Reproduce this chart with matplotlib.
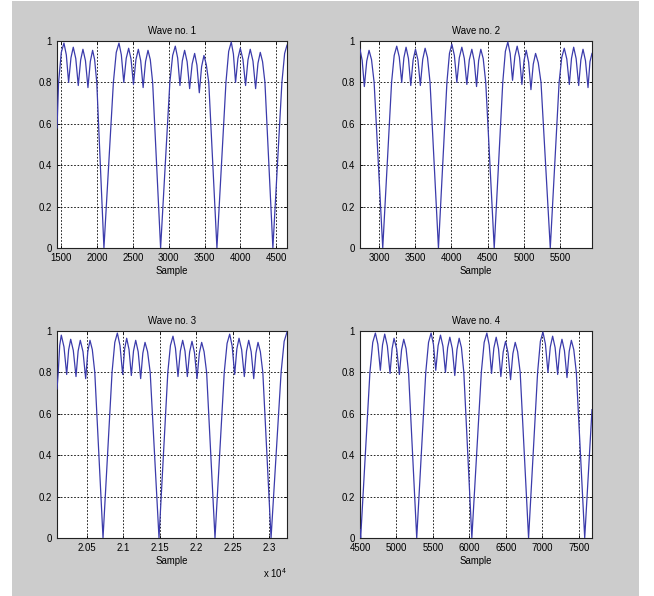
import matplotlib
matplotlib.use("Agg")
import matplotlib.pyplot as plt
from matplotlib.patches import Rectangle
from matplotlib import font_manager

_names = {f.name for f in font_manager.fontManager.ttflist}
_fam = ['Liberation Sans Narrow'] if 'Liberation Sans Narrow' in _names else []
plt.rcParams['font.family'] = _fam + ['Liberation Sans', 'DejaVu Sans']
plt.rcParams['mathtext.default'] = 'regular'

# ---------------- data ----------------
titles = ["Wave no. 1", "Wave no. 2", "Wave no. 3", "Wave no. 4"]
x_label = "Sample"

wave1_x = [1440, 1462, 1500, 1537, 1570, 1602, 1635, 1667, 1702, 1737, 1770, 1802, 1837, 1872, 1905, 1937, 1965, 1995, 2095,
           2227, 2267, 2305, 2338, 2372, 2406, 2440, 2473, 2507, 2541, 2575, 2608, 2642, 2676, 2710, 2742, 2775, 2886,
           3015, 3054, 3091, 3124, 3156, 3189, 3221, 3256, 3291, 3326, 3361, 3393, 3426, 3458, 3491, 3524, 3558, 3672,
           3798, 3836, 3872, 3902, 3932, 3965, 3998, 4035, 4072, 4105, 4137, 4175, 4212, 4245, 4277, 4309, 4342, 4453,
           4579, 4617, 4650]
wave1_y = [0.58, 0.80, 0.945, 0.99, 0.933, 0.80, 0.919, 0.97, 0.915, 0.785, 0.908, 0.96, 0.905, 0.775, 0.901, 0.955, 0.91, 0.80, 0.0,
           0.80, 0.945, 0.99, 0.933, 0.80, 0.916, 0.965, 0.913, 0.79, 0.909, 0.96, 0.905, 0.775, 0.901, 0.955, 0.91, 0.80, 0.0,
           0.80, 0.93, 0.975, 0.918, 0.785, 0.904, 0.955, 0.90, 0.77, 0.889, 0.94, 0.883, 0.75, 0.876, 0.93, 0.885, 0.80, 0.0,
           0.80, 0.95, 0.995, 0.937, 0.80, 0.916, 0.965, 0.911, 0.785, 0.908, 0.96, 0.903, 0.77, 0.893, 0.945, 0.90, 0.80, 0.0,
           0.80, 0.94, 0.98]

wave2_x = [2737, 2767, 2797, 2830, 2862, 2896, 2932, 3051,
           3173, 3209, 3244, 3279, 3313, 3343, 3373, 3406, 3438, 3470, 3503, 3537, 3570, 3603, 3636, 3669, 3704, 3820,
           3937, 3972, 4005, 4040, 4074, 4108, 4143, 4177, 4212, 4246, 4281, 4313, 4346, 4375, 4405, 4438, 4473, 4590,
           4708, 4744, 4778, 4810, 4843, 4875, 4907, 4940, 4972, 5002, 5032, 5065, 5097, 5129, 5161, 5198, 5236, 5364,
           5486, 5522, 5557, 5592, 5627, 5657, 5687, 5721, 5756, 5786, 5816, 5850, 5885, 5912, 5940]
wave2_y = [0.96, 0.906, 0.78, 0.903, 0.955, 0.91, 0.80, 0.0,
           0.80, 0.93, 0.975, 0.923, 0.80, 0.919, 0.97, 0.915, 0.785, 0.908, 0.96, 0.908, 0.785, 0.911, 0.965, 0.92, 0.80, 0.0,
           0.80, 0.94, 0.985, 0.93, 0.80, 0.919, 0.97, 0.916, 0.79, 0.909, 0.96, 0.906, 0.78, 0.906, 0.96, 0.915, 0.80, 0.0,
           0.80, 0.95, 0.995, 0.94, 0.81, 0.926, 0.975, 0.92, 0.79, 0.906, 0.955, 0.898, 0.765, 0.888, 0.94, 0.895, 0.80, 0.0,
           0.80, 0.92, 0.965, 0.913, 0.79, 0.916, 0.97, 0.915, 0.785, 0.908, 0.96, 0.905, 0.775, 0.90, 0.94]

wave3_x = [20088, 20105, 20125, 20147, 20184, 20221, 20248, 20276, 20312, 20349, 20378, 20408, 20445, 20482, 20511, 20541, 20573, 20607, 20720,
           20844, 20882, 20917, 20953, 20990, 21017, 21045, 21077, 21109, 21139, 21169, 21203, 21237, 21267, 21297, 21332, 21368, 21489,
           21610, 21646, 21681, 21715, 21750, 21782, 21814, 21846, 21878, 21910, 21942, 21976, 22011, 22043, 22075, 22108, 22143, 22258,
           22385, 22424, 22460, 22494, 22528, 22558, 22588, 22624, 22661, 22691, 22721, 22755, 22790, 22820, 22849, 22881, 22915, 23028,
           23166, 23208, 23247]
wave3_y = [0.72, 0.80, 0.93, 0.98, 0.923, 0.79, 0.909, 0.96, 0.906, 0.78, 0.903, 0.955, 0.90, 0.77, 0.90, 0.955, 0.91, 0.80, 0.0,
           0.80, 0.945, 0.99, 0.93, 0.79, 0.913, 0.965, 0.911, 0.785, 0.904, 0.955, 0.90, 0.77, 0.893, 0.945, 0.90, 0.80, 0.0,
           0.80, 0.93, 0.975, 0.917, 0.78, 0.903, 0.955, 0.903, 0.78, 0.899, 0.95, 0.896, 0.77, 0.893, 0.945, 0.90, 0.80, 0.0,
           0.80, 0.94, 0.985, 0.927, 0.79, 0.913, 0.965, 0.91, 0.78, 0.903, 0.955, 0.90, 0.77, 0.893, 0.945, 0.90, 0.80, 0.0,
           0.80, 0.95, 0.995]

wave4_x = [4500, 4509, 4636, 4675, 4711, 4745, 4779, 4809, 4839, 4875, 4912, 4940, 4967, 5003, 5040, 5070, 5100, 5132, 5166, 5278,
           5402, 5440, 5475, 5507, 5539, 5571, 5604, 5638, 5672, 5702, 5732, 5766, 5800, 5830, 5860, 5891, 5924, 6034,
           6164, 6203, 6240, 6272, 6304, 6336, 6368, 6400, 6432, 6464, 6496, 6530, 6565, 6597, 6629, 6662, 6697, 6812,
           6936, 6974, 7009, 7043, 7078, 7110, 7142, 7176, 7211, 7240, 7270, 7304, 7339, 7369, 7399, 7432, 7467, 7582,
           7682]
wave4_y = [0.04, 0.0, 0.80, 0.945, 0.99, 0.936, 0.81, 0.933, 0.985, 0.928, 0.795, 0.914, 0.965, 0.913, 0.79, 0.909, 0.96, 0.915, 0.80, 0.0,
           0.80, 0.945, 0.99, 0.936, 0.81, 0.929, 0.98, 0.926, 0.80, 0.919, 0.97, 0.915, 0.785, 0.911, 0.965, 0.92, 0.80, 0.0,
           0.80, 0.945, 0.99, 0.932, 0.795, 0.918, 0.97, 0.913, 0.78, 0.899, 0.95, 0.895, 0.765, 0.891, 0.945, 0.90, 0.80, 0.0,
           0.80, 0.95, 0.995, 0.937, 0.80, 0.923, 0.975, 0.92, 0.79, 0.909, 0.96, 0.905, 0.775, 0.901, 0.955, 0.91, 0.80, 0.0,
           0.62]

xticks1 = [1500, 2000, 2500, 3000, 3500, 4000, 4500]
xticks2 = [3000, 3500, 4000, 4500, 5000, 5500]
xticks3 = [20500, 21000, 21500, 22000, 22500, 23000]
xticks4 = [4500, 5000, 5500, 6000, 6500, 7000, 7500]
xticklabels1 = ["1500", "2000", "2500", "3000", "3500", "4000", "4500"]
xticklabels2 = ["3000", "3500", "4000", "4500", "5000", "5500"]
xticklabels3 = ["2.05", "2.1", "2.15", "2.2", "2.25", "2.3"]
xticklabels4 = ["4500", "5000", "5500", "6000", "6500", "7000", "7500"]
yticks = [0, 0.2, 0.4, 0.6, 0.8, 1.0]
yticklabels = ["0", "0.2", "0.4", "0.6", "0.8", "1"]
exponent_label = "x 10$^{4}$"

waves_x = [wave1_x, wave2_x, wave3_x, wave4_x]
waves_y = [wave1_y, wave2_y, wave3_y, wave4_y]
xticks_all = [xticks1, xticks2, xticks3, xticks4]
xticklabels_all = [xticklabels1, xticklabels2, xticklabels3, xticklabels4]

# ---------------- figure ----------------
W, H = 654, 596
fig = plt.figure(figsize=(W / 100, H / 100), dpi=100, facecolor="white")
bg = Rectangle((12 / W, 0), (639 - 12) / W, 595 / H,
               transform=fig.transFigure, facecolor="#cccccc",
               edgecolor="none", zorder=-10)
fig.patches.append(bg)

# axes boxes in pixels: (left, top, right, bottom)
boxes = [(57, 41, 287, 248), (360, 41, 592, 248),
         (57, 331, 287, 538), (360, 331, 592, 538)]

FS = 7.3 if _fam else 6.9
line_color = "#3b3bab"

for i, (l, t, r, b) in enumerate(boxes):
    ax = fig.add_axes([l / W, 1 - b / H, (r - l) / W, (b - t) / H])
    ax.set_zorder(5)
    ax.set_facecolor("white")
    ax.plot(waves_x[i], waves_y[i], color=line_color, lw=0.9, zorder=3)
    ax.set_xlim(waves_x[i][0], waves_x[i][-1])
    ax.set_ylim(0, 1)
    ax.set_xticks(xticks_all[i])
    ax.set_xticklabels(xticklabels_all[i])
    ax.set_yticks(yticks)
    ax.set_yticklabels(yticklabels)
    ax.grid(True, color="black", linestyle=(0, (2, 2)), linewidth=0.6)
    ax.tick_params(direction="in", length=2.5, width=0.6, labelsize=FS,
                   top=True, right=True, pad=3.5, colors="black")
    for s in ax.spines.values():
        s.set_linewidth(0.8)
        s.set_color("#222222")
    ax.set_title(titles[i], fontsize=FS, pad=5)
    ax.set_xlabel(x_label, fontsize=FS, labelpad=2)
    if i == 2:
        ax.text(1.0, -0.135, exponent_label, transform=ax.transAxes,
                ha="right", va="top", fontsize=FS)

fig.savefig("out.png", dpi=100, facecolor=fig.get_facecolor())
